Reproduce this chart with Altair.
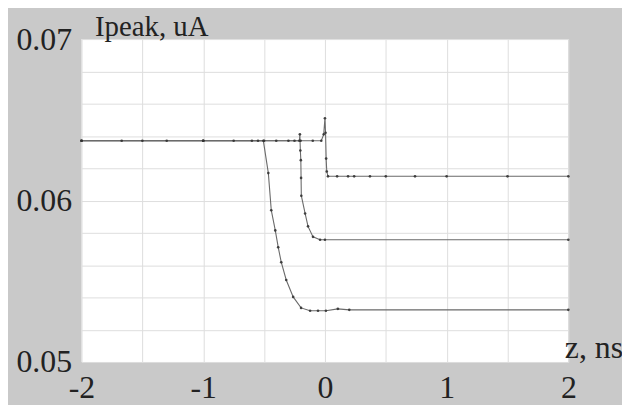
import altair as alt
import pandas as pd

# Series 1 (top curve, small spike at z=0)
z1 = [-2.0, -1.67, -1.5, -1.3, -1.0, -0.75, -0.55, -0.4, -0.3, -0.2, -0.1, -0.03,
      -0.01, 0.0, 0.005, 0.01, 0.015, 0.025, 0.1, 0.19, 0.24, 0.37, 0.5, 0.74, 1.0, 1.5, 2.0]
v1 = [0.0637, 0.0637, 0.0637, 0.0637, 0.0637, 0.0637, 0.0637, 0.0637, 0.0637, 0.0637, 0.0637, 0.0637,
      0.0641, 0.0651, 0.0642, 0.0626, 0.0618, 0.06150, 0.06150, 0.06150, 0.06150, 0.06150, 0.06150,
      0.06150, 0.06150, 0.06150, 0.06150]

# Series 2 (middle curve)
z2 = [-2.0, -1.0, -0.5, -0.25, -0.21, -0.206, -0.202, -0.198, -0.196, -0.194, -0.163,
      -0.139, -0.098, -0.04, 0.0, 2.0]
v2 = [0.0637, 0.0637, 0.0637, 0.0637, 0.0637, 0.0641, 0.0631, 0.0625, 0.0614, 0.0603, 0.0592,
      0.0584, 0.05775, 0.05757, 0.05757, 0.05757]

# Series 3 (bottom curve)
z3 = [-2.0, -1.0, -0.6, -0.506, -0.465, -0.441, -0.408, -0.384, -0.359, -0.318, -0.261,
      -0.196, -0.122, -0.057, 0.008, 0.106, 0.2, 2.0]
v3 = [0.0637, 0.0637, 0.0637, 0.0637, 0.0617, 0.0594, 0.05815, 0.05711, 0.05618, 0.05508, 0.05403,
      0.05335, 0.05317, 0.05317, 0.05317, 0.05329, 0.05323, 0.05323]

x_grid = [-2.0, -1.5, -1.0, -0.5, 0.0, 0.5, 1.0, 1.5, 2.0]
y_grid = [0.05, 0.052, 0.054, 0.056, 0.058, 0.06, 0.062, 0.064, 0.066, 0.068, 0.07]

rows = []
for name, zs, vs in [("s1", z1, v1), ("s2", z2, v2), ("s3", z3, v3)]:
    for i, (z, v) in enumerate(zip(zs, vs)):
        rows.append({"series": name, "z": z, "v": v, "order": i})
df = pd.DataFrame(rows)

FONT = "Liberation Serif"
FS = 32

x_enc = alt.X(
    "z:Q",
    scale=alt.Scale(domain=[-2, 2], nice=False, zero=False),
    axis=alt.Axis(
        values=x_grid,
        labelExpr="datum.value % 1 == 0 ? '' + datum.value : ''",
        grid=True, gridColor="#dedede", gridWidth=1,
        domain=False, ticks=False, tickSize=0,
        labelFont=FONT, labelFontSize=FS, labelColor="#222222",
        labelPadding=26, labelBaseline="middle", labelFlush=False, labelOverlap=False,
        title="z, ns", titleFont=FONT, titleFontSize=FS, titleFontWeight="normal",
        titleColor="#222222", titleAngle=0, titleAlign="left", titleBaseline="alphabetic",
        titleX=486, titleY=-5,
    ),
)
y_enc = alt.Y(
    "v:Q",
    scale=alt.Scale(domain=[0.05, 0.07], nice=False, zero=False),
    axis=alt.Axis(
        values=y_grid,
        labelExpr="abs(datum.value * 100 - round(datum.value * 100)) < 0.000001 ? format(datum.value, '.2f') : ''",
        grid=True, gridColor="#dedede", gridWidth=1,
        domain=False, ticks=False, tickSize=0,
        labelFont=FONT, labelFontSize=FS, labelColor="#222222",
        labelPadding=10, labelAlign="right", labelBaseline="middle",
        labelFlush=False, labelOverlap=False,
        title="Ipeak, uA", titleFont=FONT, titleFontSize=29, titleFontWeight="normal",
        titleColor="#222222", titleAngle=0, titleAlign="left", titleBaseline="alphabetic",
        titleX=13, titleY=-4,
    ),
)

base = alt.Chart(df)
lines = base.mark_line(color="#6a6a6a", strokeWidth=1.1).encode(
    x=x_enc, y=y_enc, detail="series:N", order="order:Q"
)
pts = base.mark_circle(color="#333333", size=7, opacity=0.9).encode(x=x_enc, y=y_enc)

chart = (
    alt.layer(lines, pts)
    .properties(
        width=490, height=325,
        autosize=alt.AutoSizeParams(type="none"),
        padding={"left": 74, "top": 30, "right": 54, "bottom": 42},
        background="#c9c9c9",
    )
    .configure_view(fill="white", stroke=None)
)

chart.save("out.html", embed_options={"renderer": "svg", "actions": False})
